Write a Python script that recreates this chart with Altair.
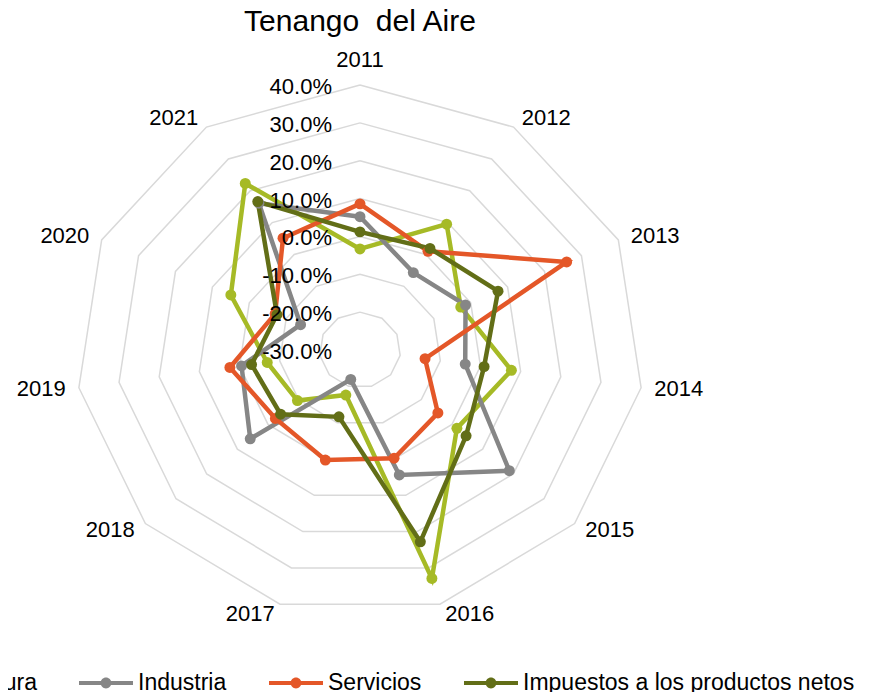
import altair as alt
import pandas as pd

# ---- data ----
years = ["2011", "2012", "2013", "2014", "2015", "2016", "2017", "2018", "2019", "2020", "2021"]
series_names = ["Agricultura", "Industria", "Servicios", "Impuestos a los productos netos"]
agricultura = [-3.3, 9.5, -2.7, 7.7, 1.6, 32.9, -17.6, -9.6, -6.9, 5.0, 22.3]
industria = [5.2, -5.7, -1.4, -3.8, 18.7, 4.4, -21.9, 5.8, -0.5, -13.9, 16.1]
servicios = [8.6, 1.0, 26.0, -13.8, -4.6, -0.2, 0.3, -2.4, 2.4, -7.0, 5.1]
impuestos = [1.2, 1.9, 7.4, 0.9, 4.6, 22.8, -11.6, -4.1, -3.0, -7.5, 16.6]
tick_values = [-30, -20, -10, 0, 10, 20, 30, 40]
tick_labels = ["-30.0%", "-20.0%", "-10.0%", "0.0%", "10.0%", "20.0%", "30.0%", "40.0%"]
colors = ["#A6BA26", "#868686", "#E45728", "#626E17"]

FONT = "Liberation Sans"
N = len(years)
RMIN, RMAX = tick_values[0], tick_values[-1]

# ---- tables built from the arrays ----
rows = []
for name, vals in zip(series_names, [agricultura, industria, servicios, impuestos]):
    for i, v in enumerate(vals + [vals[0]]):
        rows.append({"series": name, "idx": i, "value": v})
series_df = pd.DataFrame(rows)

grid_df = pd.DataFrame(
    [{"level": lv, "idx": i} for lv in tick_values[1:] for i in range(N + 1)]
)
ticks_df = pd.DataFrame({"level": tick_values, "label": tick_labels})
years_df = pd.DataFrame({"year": years, "idx": list(range(N))})

xs = alt.Scale(domain=[-1, 1], nice=False, zero=False)
ys = alt.Scale(domain=[-1, 1], nice=False, zero=False)
X = alt.X("px:Q", scale=xs, axis=None)
Y = alt.Y("py:Q", scale=ys, axis=None)
theta = f"datum.idx * 2 * PI / {N}"
rad = lambda f: f"({f} - ({RMIN})) / ({RMAX} - ({RMIN}))"

grid = (
    alt.Chart(grid_df)
    .transform_calculate(th=theta, r=rad("datum.level"))
    .transform_calculate(px="datum.r * sin(datum.th)", py="datum.r * cos(datum.th)")
    .mark_line(color="#D9D9D9", strokeWidth=1.5)
    .encode(x=X, y=Y, detail="level:N", order="idx:Q")
)

color_scale = alt.Scale(domain=series_names, range=colors)

legend_symbol = (
    "M-1,-0.07L1,-0.07L1,0.07L-1,0.07Z"
    "M0.2,0A0.2,0.2,0,1,1,-0.2,0A0.2,0.2,0,1,1,0.2,0Z"
)
legend = alt.Legend(
    title=None,
    orient="none",
    direction="horizontal",
    legendX=-208,
    legendY=571,
    symbolType=legend_symbol,
    symbolSize=2916,
    symbolStrokeWidth=0,
    symbolOpacity=1,
    labelFont=FONT,
    labelFontSize=23,
    labelColor="black",
    labelOffset=5,
    columnPadding=42,
    labelLimit=500,
)
color_enc = alt.Color("series:N", scale=color_scale, sort=series_names, legend=legend)

base_series = (
    alt.Chart(series_df)
    .transform_calculate(th=theta, r=rad("datum.value"))
    .transform_calculate(px="datum.r * sin(datum.th)", py="datum.r * cos(datum.th)")
)

lines = base_series.mark_line(strokeWidth=4.5).encode(
    x=X, y=Y, color=color_enc, detail="series:N", order="idx:Q",
)

points = base_series.transform_filter(f"datum.idx < {N}").mark_point(
    filled=True, size=120, opacity=1
).encode(x=X, y=Y, color=color_enc)

tick_text = (
    alt.Chart(ticks_df)
    .transform_calculate(px="0", py=rad("datum.level"))
    .mark_text(align="right", baseline="middle", dx=-28, dy=2, font=FONT, fontSize=22, color="black")
    .encode(x=X, y=Y, text="label:N")
)

def year_layer(cond, align, k):
    return (
        alt.Chart(years_df)
        .transform_calculate(th=theta)
        .transform_filter(cond)
        .transform_calculate(px=f"{k} * sin(datum.th)", py=f"{k} * cos(datum.th)")
        .mark_text(align=align, baseline="middle", dx={"left": 2, "right": -2, "center": 0}[align],
                   font=FONT, fontSize=22, color="black")
        .encode(x=X, y=Y, text="year:N")
    )

yl_right = year_layer("sin(datum.th) > 0.05", "left", 1.04)
yl_left = year_layer("sin(datum.th) < -0.05", "right", 1.04)
yl_top = year_layer("abs(sin(datum.th)) <= 0.05", "center", 1.094)

chart = (
    alt.layer(grid, lines, points, tick_text, yl_right, yl_left, yl_top)
    .properties(
        width=568,
        height=530,
        title=alt.Title(
            "Tenango\u00a0 del Aire",
            font=FONT,
            fontSize=30,
            fontWeight="normal",
            color="black",
            anchor="middle",
            offset=12,
        ),
        padding={"left": 68, "top": 77, "right": 220, "bottom": 77},
        autosize=alt.AutoSizeParams(type="none"),
    )
    .configure_view(stroke=None)
)

chart.save("out.html", embed_options={"renderer": "svg", "actions": False})
